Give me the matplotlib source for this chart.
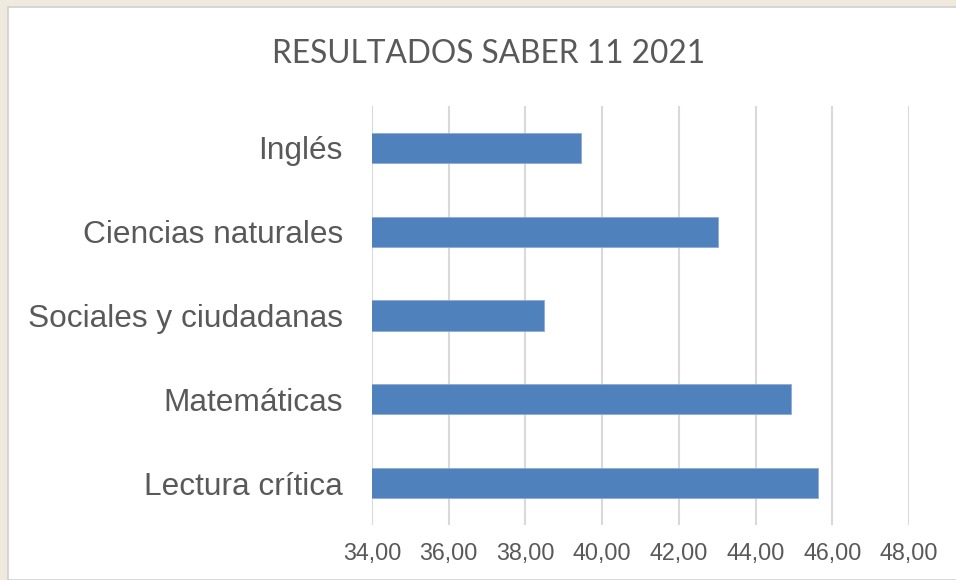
import matplotlib.pyplot as plt
from matplotlib.patches import Rectangle

# data
categories = ['Lectura crítica', 'Matemáticas', 'Sociales y ciudadanas', 'Ciencias naturales', 'Inglés']
scores = [45.64, 44.93, 38.49, 43.02, 39.44]
xticks = [34, 36, 38, 40, 42, 44, 46, 48]
xtick_labels = ['34,00', '36,00', '38,00', '40,00', '42,00', '44,00', '46,00', '48,00']

gray_text = '#595959'

fig = plt.figure(figsize=(9.56, 5.8), dpi=100)
fig.patch.set_facecolor('#efe9de')

# white chart box with thin gray border
fig.patches.append(Rectangle((8 / 956, 0), 1, 1 - 7 / 580, transform=fig.transFigure,
                             facecolor='white', edgecolor='#d0d0d0', linewidth=1.2, zorder=-5))

ax = fig.add_axes([372 / 956, 1 - 525 / 580, (909 - 372) / 956, (525 - 106) / 580])
ax.set_zorder(2)
ax.set_facecolor('none')

ypos = range(len(categories))
ax.barh(ypos, scores, height=0.36, color='#4f81bd', edgecolor='#8eaadb', linewidth=0.6, zorder=3)

ax.set_xlim(34, 48)
ax.set_ylim(-0.5, len(categories) - 0.5)
ax.set_xticks(xticks)
ax.set_xticklabels(xtick_labels)
ax.set_yticks(list(ypos))
ax.set_yticklabels(categories)

ax.grid(axis='x', color='#d9d9d9', linewidth=1.5, zorder=0)
for s in ax.spines.values():
    s.set_visible(False)
ax.tick_params(axis='both', length=0)
ax.tick_params(axis='x', pad=12, labelsize=16.8, labelcolor=gray_text)
ax.tick_params(axis='y', pad=21, labelsize=22.8, labelcolor=gray_text)
for t in ax.get_xticklabels() + ax.get_yticklabels():
    t.set_fontfamily('Liberation Sans')

fig.text(0.511, 1 - 63 / 580, 'RESULTADOS SABER 11 2021', ha='center', va='baseline',
         fontsize=22.8, color=gray_text, family='Lato', zorder=3)

fig.savefig('out.png', dpi=100, facecolor=fig.get_facecolor())
